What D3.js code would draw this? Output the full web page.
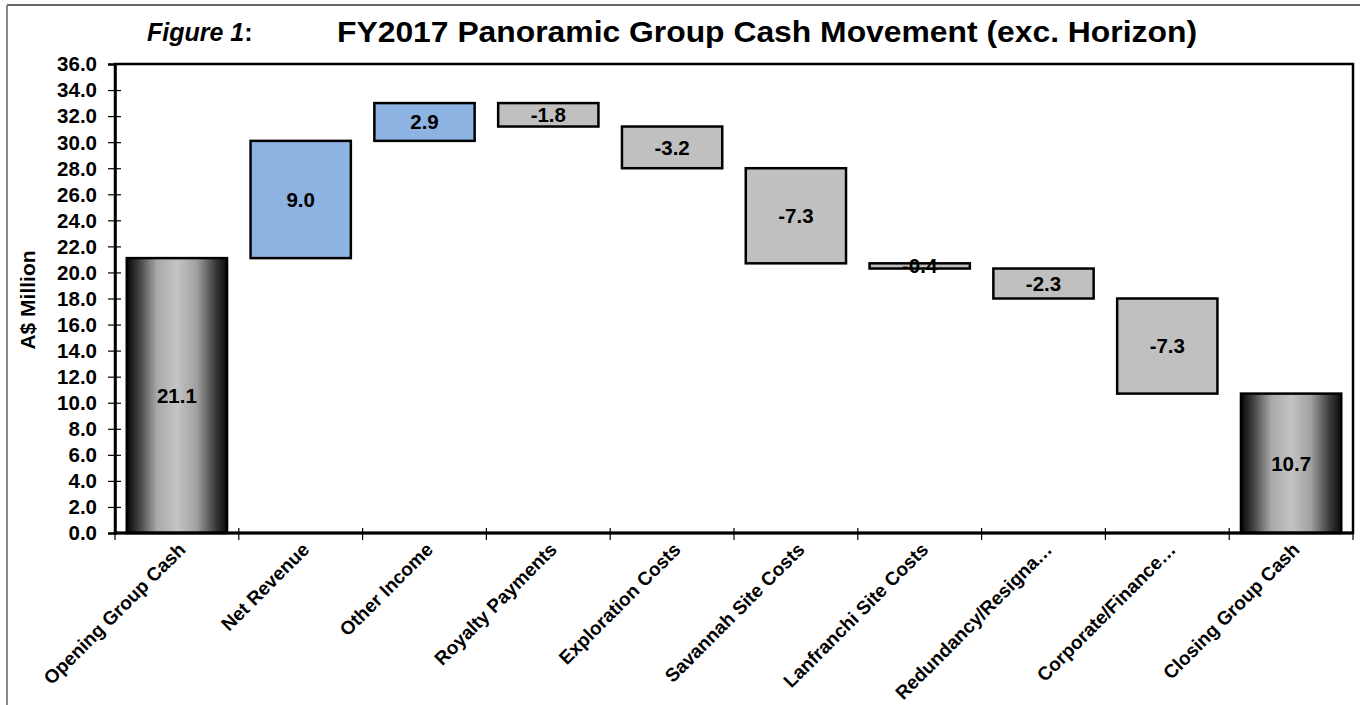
<!DOCTYPE html>
<html><head><meta charset="utf-8">
<script src="https://cdn.jsdelivr.net/npm/d3@7/dist/d3.min.js"></script>
<style>
html,body{margin:0;padding:0;background:#fff;}
svg{display:block;font-family:"Liberation Sans",Arial,sans-serif;}
</style></head>
<body>
<svg id="chart" width="1360" height="705"></svg>
<script>
const categories = ["Opening Group Cash","Net Revenue","Other Income","Royalty Payments","Exploration Costs","Savannah Site Costs","Lanfranchi Site Costs","Redundancy/Resigna…","Corporate/Finance…","Closing Group Cash"];
const values = [21.1, 9.0, 2.9, -1.8, -3.2, -7.3, -0.4, -2.3, -7.3, 10.7];
const kinds = ["total","up","up","down","down","down","down","down","down","total"];
const yTicks = [0,2,4,6,8,10,12,14,16,18,20,22,24,26,28,30,32,34,36];
const titleLead = "Figure 1";
const titleMain = "FY2017 Panoramic Group Cash Movement (exc. Horizon)";
const yAxisTitle = "A$ Million";

const svg = d3.select("#chart");
const L = 115, R = 1353, T = 64, B = 533;
const FONT = "'Liberation Sans', Arial, sans-serif";
const fmt = v => v.toFixed(1);

// waterfall rows
let run = 0;
const rows = categories.map((c, i) => {
  let y0, y1;
  if (kinds[i] === "total") { y0 = 0; y1 = values[i]; run = values[i]; }
  else { y0 = run; y1 = run + values[i]; run = y1; }
  return {cat: c, v: values[i], kind: kinds[i], lo: Math.min(y0, y1), hi: Math.max(y0, y1)};
});

const x = d3.scaleBand().domain(categories).range([L, R]).paddingInner(0.19).paddingOuter(0.095);
const y = d3.scaleLinear().domain([0, 36]).range([B, T]);

// outer frame
svg.append("line").attr("x1",7).attr("x2",1360).attr("y1",5).attr("y2",5).attr("stroke","#333").attr("stroke-width",1.5);
svg.append("line").attr("x1",7).attr("x2",7).attr("y1",5).attr("y2",705).attr("stroke","#888").attr("stroke-width",2);

// gradient
const defs = svg.append("defs");
const g = defs.append("linearGradient").attr("id","cyl").attr("x1","0").attr("x2","1").attr("y1","0").attr("y2","0");
[[0,"#050505"],[0.12,"#404040"],[0.3,"#a8a8a8"],[0.5,"#c4c4c4"],[0.7,"#a0a0a0"],[0.88,"#3c3c3c"],[1,"#0a0a0a"]]
  .forEach(([o,c]) => g.append("stop").attr("offset",o).attr("stop-color",c));

// bars
const colour = k => k === "total" ? "url(#cyl)" : (k === "up" ? "#8DB3E2" : "#C0C0C0");
svg.append("g").selectAll("rect").data(rows).join("rect")
  .attr("x", d => x(d.cat)).attr("width", x.bandwidth())
  .attr("y", d => y(d.hi)).attr("height", d => y(d.lo) - y(d.hi))
  .attr("fill", d => colour(d.kind)).attr("stroke","#000").attr("stroke-width",2.5);

// value labels
svg.append("g").selectAll("text").data(rows).join("text")
  .attr("x", d => x(d.cat) + x.bandwidth()/2)
  .attr("y", d => y((d.lo + d.hi)/2)).attr("dy","0.36em")
  .attr("text-anchor","middle")
  .style("font-family",FONT).style("font-weight","bold").style("font-size","20.5px")
  .text(d => fmt(d.v));

// plot frame
svg.append("rect").attr("x",L).attr("y",T).attr("width",R-L).attr("height",B-T)
  .attr("fill","none").attr("stroke","#000").attr("stroke-width",2.5);

// y axis (ticks via d3 axis, labels drawn explicitly)
const yAxis = d3.axisLeft(y).tickValues(yTicks).tickFormat("").tickSize(7);
const ya = svg.append("g").attr("transform",`translate(${L},0)`).call(yAxis);
ya.select(".domain").attr("stroke","#000").attr("stroke-width",2.5);
ya.selectAll(".tick line").attr("stroke","#000").attr("stroke-width",1.2).attr("x2",-7).attr("x1",6);
svg.append("g").selectAll("text").data(yTicks).join("text")
  .attr("x", L - 18).attr("y", d => y(d)).attr("dy","0.36em").attr("text-anchor","end")
  .style("font-family",FONT).style("font-weight","bold").style("font-size","20.5px")
  .text(d => fmt(d));

// x axis ticks at band boundaries
const step = x.step();
const bounds = d3.range(categories.length + 1).map(i => L + i * step);
svg.append("g").selectAll("line").data(bounds).join("line")
  .attr("x1", d => d).attr("x2", d => d).attr("y1", B - 5).attr("y2", B + 7)
  .attr("stroke","#000").attr("stroke-width",1.2);
svg.append("line").attr("x1",L).attr("x2",R).attr("y1",B).attr("y2",B).attr("stroke","#000").attr("stroke-width",3);

// x labels
svg.append("g").selectAll("text").data(categories).join("text")
  .attr("transform", d => `translate(${x(d) + x.bandwidth()/2 + 5},${B + 13}) rotate(-45)`)
  .attr("text-anchor","end").attr("dy","0.35em")
  .style("font-family",FONT).style("font-weight","bold").style("font-size","19px")
  .text(d => d);

// y axis title
svg.append("text").attr("transform",`translate(35,300) rotate(-90)`)
  .attr("text-anchor","middle")
  .style("font-family",FONT).style("font-weight","bold").style("font-size","21px").text(yAxisTitle);

// title
const tl = svg.append("text").attr("x",147).attr("y",41)
  .style("font-family",FONT).style("font-weight","bold").style("font-size","25px");
tl.append("tspan").style("font-style","italic").text(titleLead);
tl.append("tspan").text(":");
svg.append("text").attr("x",337).attr("y",42)
  .style("font-family",FONT).style("font-weight","bold").style("font-size","30px")
  .attr("textLength",860).attr("lengthAdjust","spacingAndGlyphs").text(titleMain);
</script>
</body></html>
